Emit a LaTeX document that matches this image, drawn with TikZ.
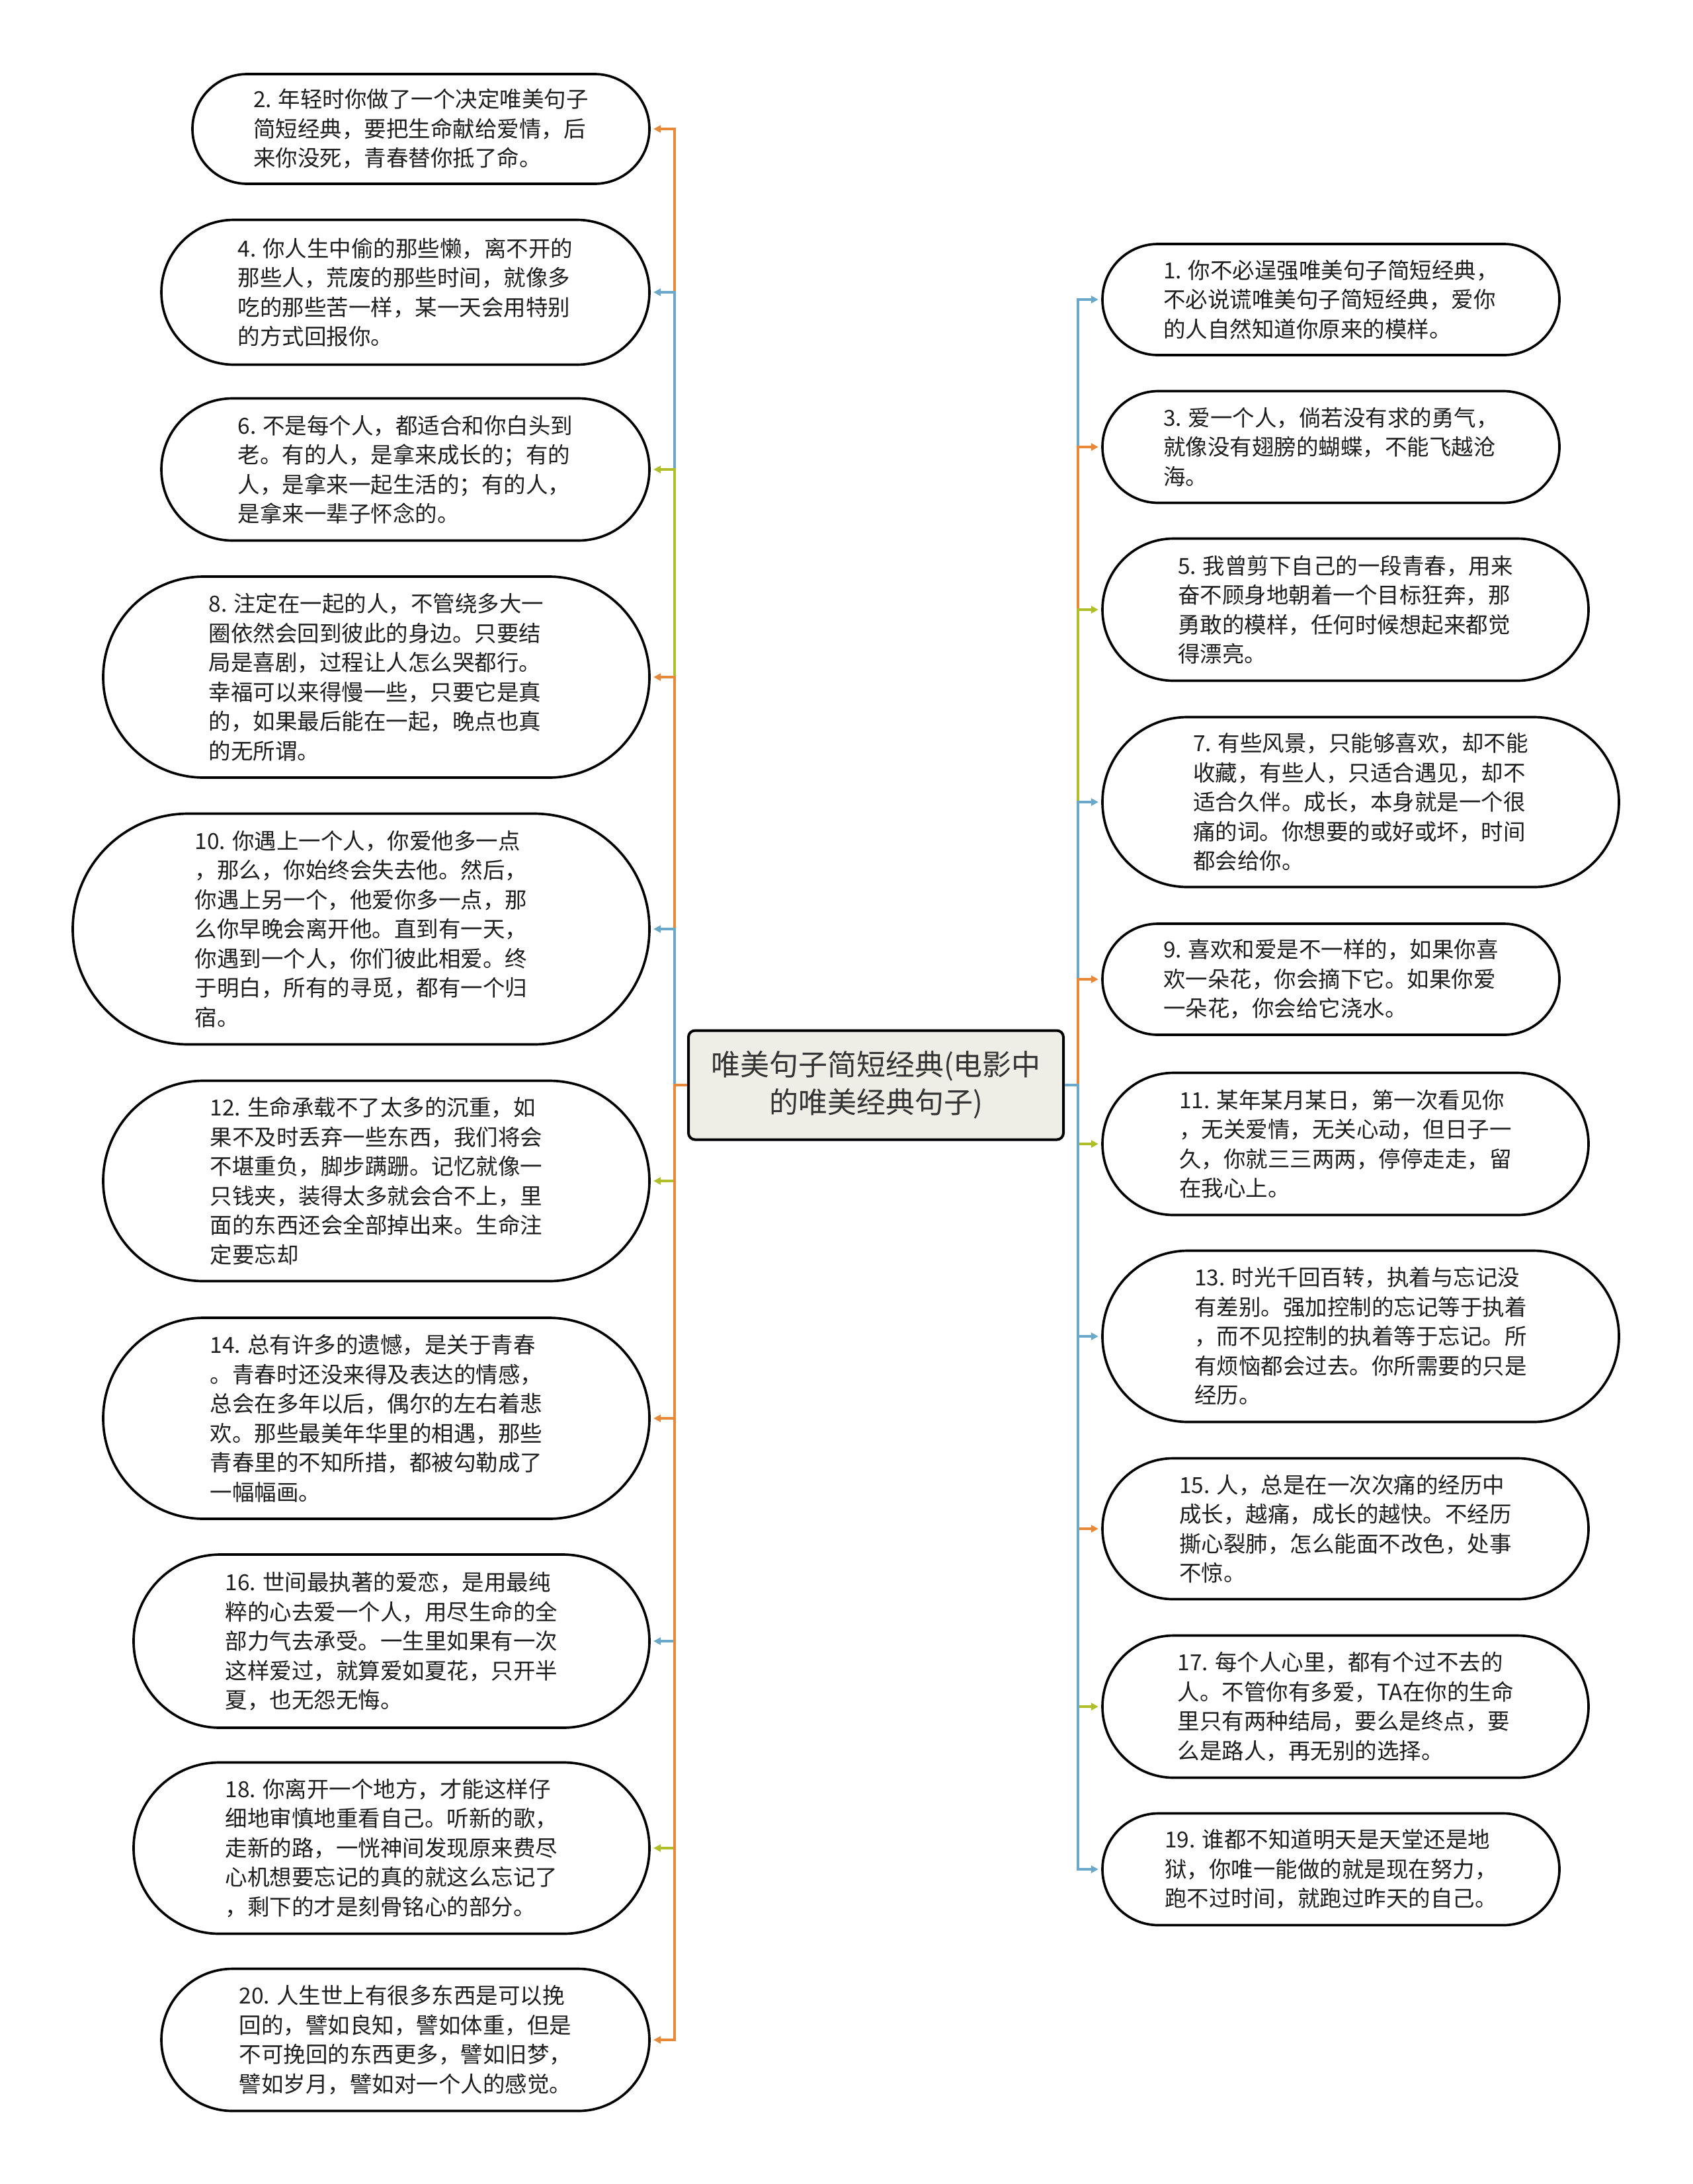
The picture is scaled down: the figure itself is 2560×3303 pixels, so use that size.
\documentclass[tikz,border=0pt]{standalone}
\usepackage{fontspec}
\newfontfamily\cjk{Noto Sans CJK SC}
\usetikzlibrary{shapes.misc,arrows.meta}
\definecolor{cOr}{HTML}{E8893A}
\definecolor{cBl}{HTML}{6AA8C9}
\definecolor{cGr}{HTML}{B0BE2A}
\definecolor{cFill}{HTML}{EEEEE6}
\definecolor{cTxt}{HTML}{1E1E1E}
\definecolor{cRootTxt}{HTML}{333333}
\begin{document}
\begin{tikzpicture}[x=0.3pt,y=-0.3pt,
  leaf/.style 2 args={rounded rectangle, draw=black, line width=1.1pt, inner sep=0pt,
    minimum width=#1*0.3pt, minimum height=#2*0.3pt, align=left, text=cTxt,
    font=\cjk\fontsize{10.05}{13.35}\selectfont},
  root/.style={rectangle, rounded corners=3pt, draw=black, line width=1.2pt, fill=cFill,
    minimum width=170.1pt, minimum height=49.5pt, align=center, text=cRootTxt,
    font=\cjk\fontsize{13.2}{17.1}\selectfont},
  conn/.style={line width=1pt, -{Triangle[length=3.3pt,width=3.3pt]}, shorten >=1.3pt}]
\useasboundingbox (0,0) rectangle (2560,3303);

\node[root] (c) at (1324.5,1641) {唯美句子简短经典(电影中\\的唯美经典句子)};

% left nodes
\node[leaf={691}{166}] (n2) at (636.5,195) {2. 年轻时你做了一个决定唯美句子\\简短经典，要把生命献给爱情，后\\来你没死，青春替你抵了命。};
\node[leaf={738}{219}] (n4) at (613,442) {4. 你人生中偷的那些懒，离不开的\\那些人，荒废的那些时间，就像多\\吃的那些苦一样，某一天会用特别\\的方式回报你。};
\node[leaf={738}{215}] (n6) at (613,710) {6. 不是每个人，都适合和你白头到\\老。有的人，是拿来成长的；有的\\人，是拿来一起生活的；有的人，\\是拿来一辈子怀念的。};
\node[leaf={826}{304}] (n8) at (569,1024) {8. 注定在一起的人，不管绕多大一\\圈依然会回到彼此的身边。只要结\\局是喜剧，过程让人怎么哭都行。\\幸福可以来得慢一些，只要它是真\\的，如果最后能在一起，晚点也真\\的无所谓。};
\node[leaf={872}{349}] (n10) at (546,1405) {10. 你遇上一个人，你爱他多一点\\，那么，你始终会失去他。然后，\\你遇上另一个，他爱你多一点，那\\么你早晚会离开他。直到有一天，\\你遇到一个人，你们彼此相爱。终\\于明白，所有的寻觅，都有一个归\\宿。};
\node[leaf={826}{303}] (n12) at (569,1786) {12. 生命承载不了太多的沉重，如\\果不及时丢弃一些东西，我们将会\\不堪重负，脚步蹒跚。记忆就像一\\只钱夹，装得太多就会合不上，里\\面的东西还会全部掉出来。生命注\\定要忘却};
\node[leaf={826}{304}] (n14) at (569,2145) {14. 总有许多的遗憾，是关于青春\\。青春时还没来得及表达的情感，\\总会在多年以后，偶尔的左右着悲\\欢。那些最美年华里的相遇，那些\\青春里的不知所措，都被勾勒成了\\一幅幅画。};
\node[leaf={780}{262}] (n16) at (592,2482) {16. 世间最执著的爱恋，是用最纯\\粹的心去爱一个人，用尽生命的全\\部力气去承受。一生里如果有一次\\这样爱过，就算爱如夏花，只开半\\夏，也无怨无悔。};
\node[leaf={780}{259}] (n18) at (592,2795) {18. 你离开一个地方，才能这样仔\\细地审慎地重看自己。听新的歌，\\走新的路，一恍神间发现原来费尽\\心机想要忘记的真的就这么忘记了\\，剩下的才是刻骨铭心的部分。};
\node[leaf={738}{215}] (n20) at (613,3085) {20. 人生世上有很多东西是可以挽\\回的，譬如良知，譬如体重，但是\\不可挽回的东西更多，譬如旧梦，\\譬如岁月，譬如对一个人的感觉。};

% right nodes
\node[leaf={691}{168}] (n1) at (2012.5,453) {1. 你不必逞强唯美句子简短经典，\\不必说谎唯美句子简短经典，爱你\\的人自然知道你原来的模样。};
\node[leaf={691}{169}] (n3) at (2012.5,676) {3. 爱一个人，倘若没有求的勇气，\\就像没有翅膀的蝴蝶，不能飞越沧\\海。};
\node[leaf={735}{215}] (n5) at (2034.5,922) {5. 我曾剪下自己的一段青春，用来\\奋不顾身地朝着一个目标狂奔，那\\勇敢的模样，任何时候想起来都觉\\得漂亮。};
\node[leaf={781}{257}] (n7) at (2057.5,1213) {7. 有些风景，只能够喜欢，却不能\\收藏，有些人，只适合遇见，却不\\适合久伴。成长，本身就是一个很\\痛的词。你想要的或好或坏，时间\\都会给你。};
\node[leaf={691}{168}] (n9) at (2012.5,1481) {9. 喜欢和爱是不一样的，如果你喜\\欢一朵花，你会摘下它。如果你爱\\一朵花，你会给它浇水。};
\node[leaf={735}{215}] (n11) at (2034.5,1730) {11. 某年某月某日，第一次看见你\\，无关爱情，无关心动，但日子一\\久，你就三三两两，停停走走，留\\在我心上。};
\node[leaf={781}{259}] (n13) at (2057.5,2021) {13. 时光千回百转，执着与忘记没\\有差别。强加控制的忘记等于执着\\，而不见控制的执着等于忘记。所\\有烦恼都会过去。你所需要的只是\\经历。};
\node[leaf={735}{213}] (n15) at (2034.5,2312) {15. 人，总是在一次次痛的经历中\\成长，越痛，成长的越快。不经历\\撕心裂肺，怎么能面不改色，处事\\不惊。};
\node[leaf={735}{215}] (n17) at (2034.5,2581) {17. 每个人心里，都有个过不去的\\人。不管你有多爱，TA在你的生命\\里只有两种结局，要么是终点，要\\么是路人，再无别的选择。};
\node[leaf={691}{169}] (n19) at (2012.5,2827) {19. 谁都不知道明天是天堂还是地\\狱，你唯一能做的就是现在努力，\\跑不过时间，就跑过昨天的自己。};

\coordinate (tl) at (1020,1641);
\coordinate (tr) at (1630,1641);

% left connectors (drawn in order so later ones lie on top)
\draw[conn,cOr] (c.west) -- (tl) |- (n2.east);
\draw[conn,cBl] (c.west) -- (tl) |- (n4.east);
\draw[conn,cGr] (c.west) -- (tl) |- (n6.east);
\draw[conn,cOr] (c.west) -- (tl) |- (n8.east);
\draw[conn,cBl] (c.west) -- (tl) |- (n10.east);
\draw[conn,cGr] (c.west) -- (tl) |- (n12.east);
\draw[conn,cOr] (c.west) -- (tl) |- (n14.east);
\draw[conn,cBl] (c.west) -- (tl) |- (n16.east);
\draw[conn,cGr] (c.west) -- (tl) |- (n18.east);
\draw[conn,cOr] (c.west) -- (tl) |- (n20.east);

% right connectors
\draw[conn,cBl] (c.east) -- (tr) |- (n1.west);
\draw[conn,cOr] (c.east) -- (tr) |- (n3.west);
\draw[conn,cGr] (c.east) -- (tr) |- (n5.west);
\draw[conn,cBl] (c.east) -- (tr) |- (n7.west);
\draw[conn,cOr] (c.east) -- (tr) |- (n9.west);
\draw[conn,cGr] (c.east) -- (tr) |- (n11.west);
\draw[conn,cBl] (c.east) -- (tr) |- (n13.west);
\draw[conn,cOr] (c.east) -- (tr) |- (n15.west);
\draw[conn,cGr] (c.east) -- (tr) |- (n17.west);
\draw[conn,cBl] (c.east) -- (tr) |- (n19.west);
\end{tikzpicture}
\end{document}
